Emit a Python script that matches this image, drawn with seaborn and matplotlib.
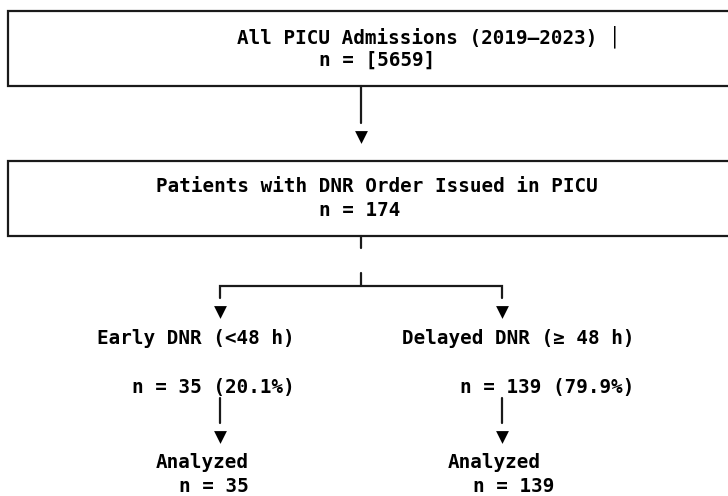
import matplotlib
matplotlib.use("Agg")
import matplotlib.pyplot as plt
import seaborn as sns
import pandas as pd

# flow chart content
top_titles = ["All PICU Admissions (2019–2023) │", "Patients with DNR Order Issued in PICU"]
top_counts = ["[5659]", "174"]
group_titles = ["Early DNR (<48 h)", "Delayed DNR (≥ 48 h)"]
group_counts = [35, 139]
group_pcts = [20.1, 79.9]
analyzed_counts = [35, 139]

sns.set_theme(style="white")
plt.rcParams["font.family"] = ["DejaVu Sans Mono", "DejaVu Sans"]

fig = plt.figure(figsize=(7.28, 4.96), dpi=100)
ax = fig.add_axes([0, 0, 1, 1])
ax.set_xlim(0, 728)
ax.set_ylim(496, 0)
ax.axis("off")

lc = "#1a1a1a"
lw = 1.6
fs = 13.9
txt = dict(fontsize=fs, fontweight="bold", color="black", va="center", ha="left")

# boxes (run off the right edge)
for top, bot in [(11, 85.5), (161, 236)]:
    ax.plot([760, 8, 8, 760], [top, top, bot, bot], color=lc, lw=lw, solid_joinstyle="miter")

# box texts
ax.text(237, 37, top_titles[0], **txt)
ax.text(319, 60, f"n = {top_counts[0]}", **txt)
ax.text(156, 187, top_titles[1], **txt)
ax.text(319, 210, f"n = {top_counts[1]}", **txt)

# connectors
cx = 361
ax.plot([cx, cx], [86, 123], color=lc, lw=lw)
ax.plot([cx, cx], [236, 248], color=lc, lw=lw)
ax.plot([cx, cx], [273, 286], color=lc, lw=lw)
left_x, right_x = 220, 502
ax.plot([left_x, left_x, right_x, right_x], [298, 286, 286, 298], color=lc, lw=lw, solid_joinstyle="miter")
for x in (left_x, right_x):
    ax.plot([x, x], [398, 423], color=lc, lw=lw)

# arrow heads
arrows = pd.DataFrame({
    "x": [cx, left_x, right_x, left_x, right_x],
    "y": [137, 312, 312, 437, 437],
})
sns.scatterplot(data=arrows, x="x", y="y", marker="v", s=85, color="black",
                edgecolor="black", linewidth=0, ax=ax, legend=False)

# branch texts
lefts_title = [97, 402]
lefts_n = [132, 460]
lefts_an = [156, 448]
lefts_an_n = [179, 473]
for i in range(2):
    ax.text(lefts_title[i], 338, group_titles[i], **txt)
    ax.text(lefts_n[i], 388, f"n = {group_counts[i]} ({group_pcts[i]}%)", **txt)
    ax.text(lefts_an[i], 462, "Analyzed", **txt)
    ax.text(lefts_an_n[i], 487, f"n = {analyzed_counts[i]}", **txt)

fig.savefig("out.png", dpi=100)
